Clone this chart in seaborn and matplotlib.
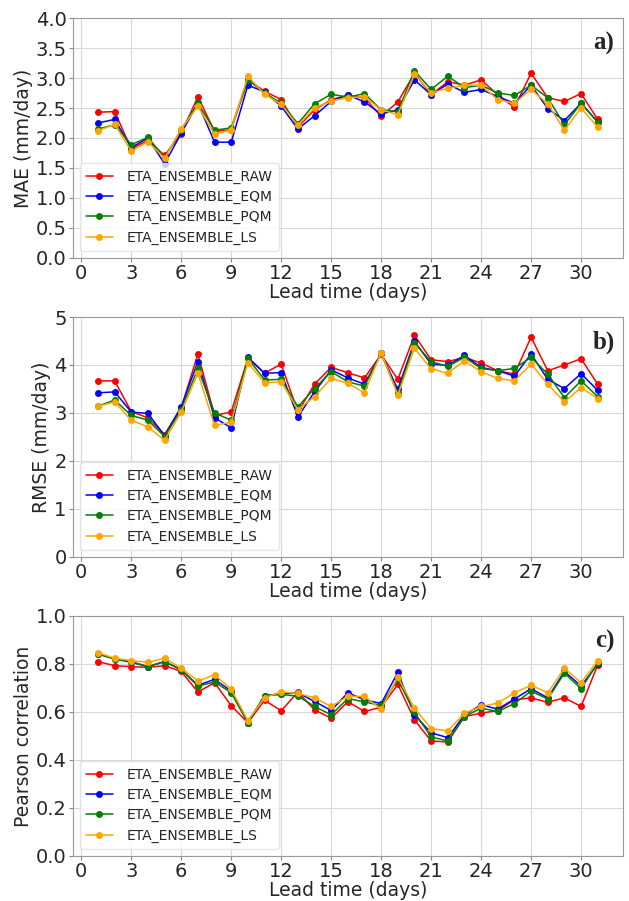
import numpy as np
import pandas as pd
import matplotlib
matplotlib.use("Agg")
import matplotlib.pyplot as plt
import seaborn as sns

days = list(range(1, 32))
series_names = ["ETA_ENSEMBLE_RAW", "ETA_ENSEMBLE_EQM", "ETA_ENSEMBLE_PQM", "ETA_ENSEMBLE_LS"]
series_colors = ["red", "blue", "green", "orange"]

mae_raw = [2.43, 2.44, 1.82, 1.96, 1.71, 2.07, 2.69, 2.11, 2.14, 2.97, 2.78, 2.64, 2.18, 2.47, 2.64, 2.71,
           2.67, 2.36, 2.60, 3.08, 2.72, 2.94, 2.88, 2.97, 2.72, 2.51, 3.08, 2.67, 2.61, 2.74, 2.31]
mae_eqm = [2.25, 2.31, 1.84, 2.00, 1.57, 2.08, 2.58, 1.93, 1.93, 2.88, 2.77, 2.53, 2.15, 2.37, 2.61, 2.72,
           2.60, 2.40, 2.47, 2.97, 2.72, 2.90, 2.76, 2.81, 2.69, 2.58, 2.88, 2.49, 2.29, 2.58, 2.27]
mae_pqm = [2.15, 2.22, 1.89, 2.01, 1.67, 2.14, 2.58, 2.13, 2.17, 2.97, 2.75, 2.58, 2.24, 2.57, 2.73, 2.68,
           2.74, 2.47, 2.44, 3.12, 2.81, 3.03, 2.84, 2.88, 2.75, 2.71, 2.88, 2.67, 2.22, 2.58, 2.26]
mae_ls = [2.12, 2.23, 1.78, 1.94, 1.66, 2.15, 2.53, 2.06, 2.14, 3.03, 2.73, 2.56, 2.21, 2.50, 2.62, 2.67,
          2.69, 2.47, 2.39, 3.06, 2.75, 2.83, 2.88, 2.88, 2.64, 2.58, 2.81, 2.57, 2.13, 2.50, 2.18]

rmse_raw = [3.67, 3.67, 3.03, 2.90, 2.55, 3.11, 4.23, 2.95, 3.02, 4.14, 3.83, 4.02, 3.02, 3.60, 3.95, 3.84,
            3.73, 4.22, 3.70, 4.62, 4.11, 4.07, 4.16, 4.04, 3.88, 3.81, 4.58, 3.88, 4.00, 4.13, 3.60]
rmse_eqm = [3.42, 3.44, 3.02, 2.99, 2.53, 3.13, 4.07, 2.90, 2.69, 4.16, 3.83, 3.84, 2.92, 3.44, 3.90, 3.73,
            3.60, 4.24, 3.49, 4.49, 4.02, 3.99, 4.20, 3.95, 3.88, 3.77, 4.23, 3.70, 3.51, 3.82, 3.47]
rmse_pqm = [3.14, 3.27, 2.95, 2.85, 2.51, 3.06, 3.93, 3.00, 2.85, 4.14, 3.69, 3.70, 3.13, 3.51, 3.86, 3.65,
            3.56, 4.24, 3.41, 4.46, 4.07, 3.97, 4.16, 3.93, 3.88, 3.93, 4.16, 3.81, 3.32, 3.67, 3.34]
rmse_ls = [3.14, 3.23, 2.85, 2.71, 2.43, 3.02, 3.83, 2.74, 2.81, 4.05, 3.63, 3.65, 3.07, 3.34, 3.72, 3.62,
           3.42, 4.26, 3.37, 4.35, 3.92, 3.83, 4.09, 3.86, 3.72, 3.67, 4.02, 3.60, 3.23, 3.53, 3.30]

corr_raw = [0.810, 0.793, 0.789, 0.786, 0.793, 0.769, 0.683, 0.722, 0.626, 0.555, 0.649, 0.605, 0.683, 0.609,
            0.574, 0.643, 0.602, 0.620, 0.715, 0.567, 0.479, 0.475, 0.581, 0.595, 0.606, 0.651, 0.659, 0.640,
            0.659, 0.623, 0.796]
corr_eqm = [0.842, 0.821, 0.807, 0.789, 0.810, 0.776, 0.711, 0.736, 0.687, 0.555, 0.668, 0.676, 0.680, 0.644,
            0.606, 0.680, 0.651, 0.635, 0.765, 0.588, 0.513, 0.493, 0.588, 0.630, 0.612, 0.654, 0.697, 0.659,
            0.769, 0.708, 0.800]
corr_pqm = [0.842, 0.821, 0.810, 0.789, 0.810, 0.776, 0.708, 0.725, 0.680, 0.555, 0.668, 0.673, 0.666, 0.623,
            0.588, 0.656, 0.642, 0.627, 0.736, 0.598, 0.496, 0.479, 0.581, 0.616, 0.602, 0.635, 0.687, 0.654,
            0.762, 0.697, 0.804]
corr_ls = [0.847, 0.824, 0.814, 0.807, 0.824, 0.782, 0.729, 0.755, 0.694, 0.564, 0.659, 0.684, 0.677, 0.659,
           0.623, 0.665, 0.665, 0.611, 0.746, 0.616, 0.531, 0.521, 0.595, 0.623, 0.637, 0.680, 0.711, 0.680,
           0.782, 0.722, 0.814]

panels = [
    ("MAE (mm/day)", "a)", [mae_raw, mae_eqm, mae_pqm, mae_ls], (0, 4.0), np.arange(0, 4.01, 0.5), "{:.1f}"),
    ("RMSE (mm/day)", "b)", [rmse_raw, rmse_eqm, rmse_pqm, rmse_ls], (0, 5), np.arange(0, 5.01, 1), "{:.0f}"),
    ("Pearson correlation", "c)", [corr_raw, corr_eqm, corr_pqm, corr_ls], (0, 1.0), np.arange(0, 1.01, 0.2), "{:.1f}"),
]

sns.set_style("ticks")
plt.rcParams["font.family"] = ["DejaVu Sans"]

fig, axes = plt.subplots(3, 1, figsize=(6.29, 9.01), dpi=100)
fig.subplots_adjust(left=0.116, right=0.990, top=0.980, bottom=0.050, hspace=0.246)

for ax, (ylabel, tag, vals, ylim, yticks, fmt) in zip(axes, panels):
    rows = []
    for name, v in zip(series_names, vals):
        for d, val in zip(days, v):
            rows.append({"day": d, "value": val, "model": name})
    df = pd.DataFrame(rows)
    sns.lineplot(data=df, x="day", y="value", hue="model", hue_order=series_names,
                 palette=series_colors, marker="o", markersize=5, markeredgewidth=0,
                 linewidth=1.1, ax=ax)
    ax.set_ylim(*ylim)
    ax.set_yticks(yticks)
    ax.set_yticklabels([fmt.format(t) for t in yticks])
    ax.set_xlim(-0.5, 32.5)
    ax.set_xticks(range(0, 31, 3))
    ax.grid(True, color="#d8d8d8", linewidth=0.8)
    ax.set_axisbelow(True)
    for s in ax.spines.values():
        s.set_color("#999999")
        s.set_linewidth(0.8)
    ax.tick_params(labelsize=14, length=3, pad=1.5, color="#888888")
    ax.set_xlabel("Lead time (days)", fontsize=13.5, labelpad=0)
    ax.set_ylabel(ylabel, fontsize=13.5, labelpad=2)
    leg = ax.legend(loc="lower left", fontsize=10, frameon=True, framealpha=0.8,
                    edgecolor="#e0e0e0", handlelength=1.9, handletextpad=1.0,
                    borderpad=0.45, labelspacing=0.45)
    ax.text(0.985, 0.895, tag, transform=ax.transAxes, ha="right", va="center",
            fontsize=18, fontweight="bold", family=["Liberation Serif"])

fig.savefig("out.png", dpi=100)
